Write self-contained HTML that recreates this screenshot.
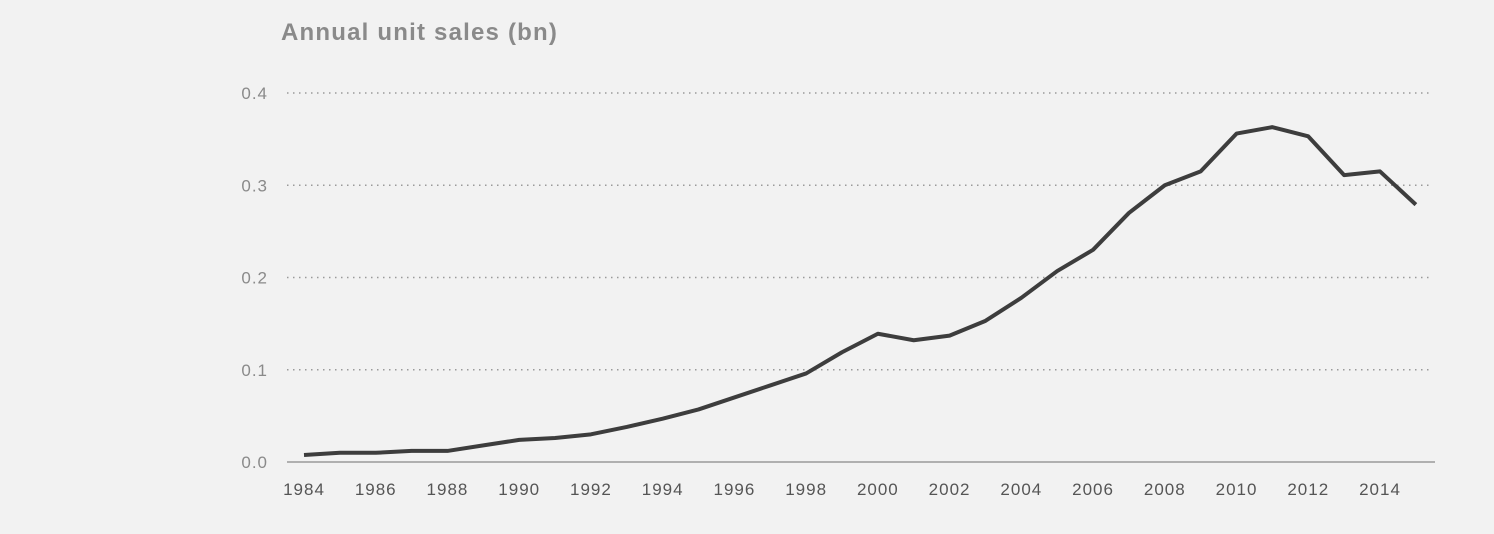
<!DOCTYPE html>
<html><head><meta charset="utf-8"><style>
html,body{margin:0;padding:0;background:#f2f2f2;}
svg{display:block;font-family:"Liberation Sans",sans-serif;}
</style></head><body>
<svg id="chart" width="1494" height="534">
<rect width="1494" height="534" fill="#f2f2f2"/>
<text x="281" y="40" font-size="24" font-weight="bold" letter-spacing="1.2" fill="#8a8a8a">Annual unit sales (bn)</text>
<g id="grid"></g><g id="axes"></g><g id="series"></g>
</svg>
<script>
const years=[1984,1985,1986,1987,1988,1989,1990,1991,1992,1993,1994,1995,1996,1997,1998,1999,2000,2001,2002,2003,2004,2005,2006,2007,2008,2009,2010,2011,2012,2013,2014,2015];
const sales=[0.0076,0.010,0.010,0.012,0.012,0.018,0.024,0.026,0.030,0.038,0.047,0.057,0.070,0.083,0.096,0.119,0.139,0.132,0.137,0.153,0.178,0.207,0.230,0.270,0.300,0.315,0.356,0.363,0.353,0.311,0.315,0.279];
const yTicks=[0,0.1,0.2,0.3,0.4];
const yTickLabels=["0.0","0.1","0.2","0.3","0.4"];
const xTickYears=[1984,1986,1988,1990,1992,1994,1996,1998,2000,2002,2004,2006,2008,2010,2012,2014];
const NS="http://www.w3.org/2000/svg";
const x=v=>304+(v-1984)*(1380-304)/30;
const y=v=>462-v*(462-93)/0.4;
function mk(t,a,p){const e=document.createElementNS(NS,t);for(const k in a)e.setAttribute(k,a[k]);p.appendChild(e);return e;}
const grid=document.getElementById('grid'),axes=document.getElementById('axes'),series=document.getElementById('series');
yTicks.forEach((t,i)=>{
 if(t>0){const l=mk('line',{x1:287,x2:1432,y1:y(t),y2:y(t),stroke:'#9a9a9a','stroke-width':1.5,'stroke-dasharray':'1.5 4.5'},grid);
 
 }
 const tx=mk('text',{x:268,y:y(t)+6,'text-anchor':'end','font-size':17,'letter-spacing':1,fill:'#8a8a8a'},axes);
 tx.textContent=yTickLabels[i];
 
 
});
const ax=mk('line',{x1:287,x2:1435,y1:462,y2:462,stroke:'#999','stroke-width':1.5},axes);


xTickYears.forEach(v=>{
 const tx=mk('text',{x:x(v),y:495,'text-anchor':'middle','font-size':17,'letter-spacing':1,fill:'#555'},axes);
 tx.textContent=v;
 
 
});
const p=mk('polyline',{points:years.map((v,i)=>x(v)+','+y(sales[i])).join(' '),fill:'none',stroke:'#3d3d3d','stroke-width':4,'stroke-linejoin':'round'},series);


</script>
</body></html>
